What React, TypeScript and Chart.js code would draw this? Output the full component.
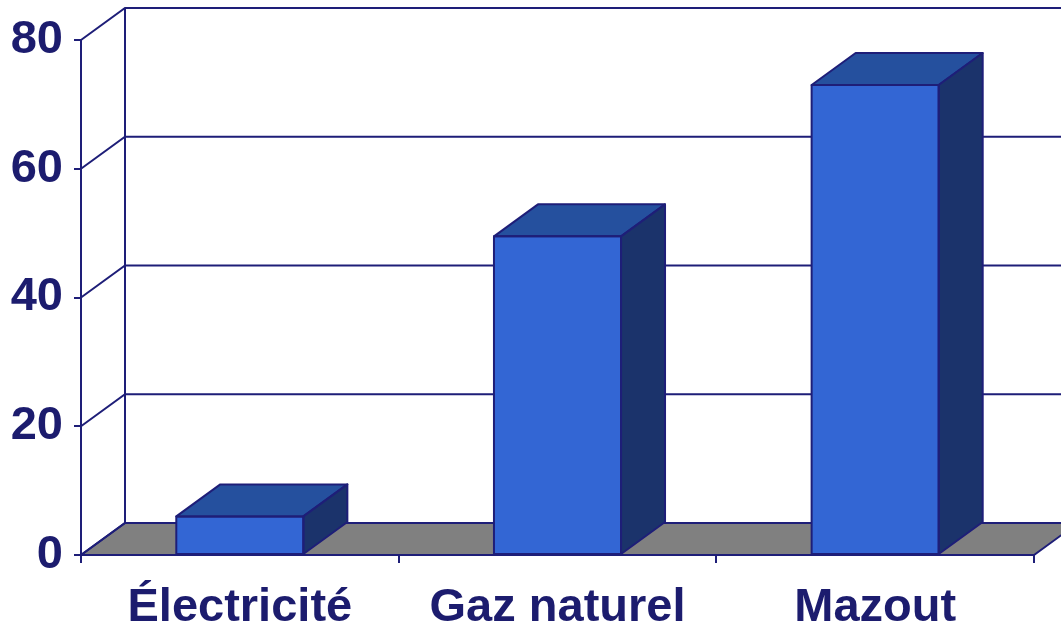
import React, { useEffect, useRef } from "react";
import { Chart, registerables } from "chart.js";

Chart.register(...registerables);

const categories = ["Électricité", "Gaz naturel", "Mazout"];
const values = [6, 49.5, 73];
const yTicks = [0, 20, 40, 60, 80];

const NAVY = "#1e1e78";
const TEXT = "#1c1c6e";
const FRONT = "#3366d4";
const TOP = "#25509e";
const SIDE = "#1b336b";
const FLOOR = "#808080";
const DX = 44;
const DY = -32;

const threeD = {
  id: "threeD",
  beforeDatasetsDraw(chart: any) {
    const { ctx, chartArea, scales } = chart;
    const { left, right, top, bottom } = chartArea;
    const y = scales.y;
    ctx.save();
    ctx.strokeStyle = NAVY;
    ctx.lineWidth = 2;
    // floor
    ctx.beginPath();
    ctx.moveTo(left, bottom);
    ctx.lineTo(right, bottom);
    ctx.lineTo(right + DX, bottom + DY);
    ctx.lineTo(left + DX, bottom + DY);
    ctx.closePath();
    ctx.fillStyle = FLOOR;
    ctx.fill();
    ctx.stroke();
    // back wall left edge
    ctx.beginPath();
    ctx.moveTo(left + DX, top + DY);
    ctx.lineTo(left + DX, bottom + DY);
    ctx.stroke();
    // grid lines on back wall and side wall
    yTicks.forEach((v) => {
      const py = y.getPixelForValue(v);
      ctx.beginPath();
      ctx.moveTo(left, py);
      ctx.lineTo(left + DX, py + DY);
      ctx.lineTo(right + DX, py + DY);
      ctx.stroke();
    });
    ctx.restore();
  },
  afterDatasetsDraw(chart: any) {
    const { ctx } = chart;
    const meta = chart.getDatasetMeta(0);
    ctx.save();
    ctx.strokeStyle = NAVY;
    ctx.lineWidth = 2;
    ctx.lineJoin = "round";
    meta.data.forEach((bar: any) => {
      const { x, y, base, width } = bar.getProps(["x", "y", "base", "width"], true);
      const l = x - width / 2;
      const r = x + width / 2;
      // top
      ctx.beginPath();
      ctx.moveTo(l, y);
      ctx.lineTo(r, y);
      ctx.lineTo(r + DX, y + DY);
      ctx.lineTo(l + DX, y + DY);
      ctx.closePath();
      ctx.fillStyle = TOP;
      ctx.fill();
      ctx.stroke();
      // side
      ctx.beginPath();
      ctx.moveTo(r, y);
      ctx.lineTo(r + DX, y + DY);
      ctx.lineTo(r + DX, base + DY);
      ctx.lineTo(r, base);
      ctx.closePath();
      ctx.fillStyle = SIDE;
      ctx.fill();
      ctx.stroke();
      // front outline
      ctx.strokeRect(l, y, width, base - y);
    });
    ctx.restore();
  },
};

export default function App() {
  const ref = useRef<HTMLCanvasElement>(null);
  useEffect(() => {
    const font = { family: "'Liberation Sans', Arial, sans-serif", size: 47, weight: "bold" as const };
    const chart = new Chart(ref.current!, {
      type: "bar",
      data: {
        labels: categories,
        datasets: [
          {
            data: values,
            backgroundColor: FRONT,
            borderColor: NAVY,
            borderWidth: 0,
            barPercentage: 0.4,
            categoryPercentage: 1,
          },
        ],
      },
      options: {
        animation: false,
        responsive: true,
        maintainAspectRatio: false,
        layout: { padding: { top: 40, right: 27, left: 0, bottom: 0 } },
        plugins: { legend: { display: false }, tooltip: { enabled: false } },
        scales: {
          x: {
            afterFit: (s: any) => {
              s.height = 72;
            },
            grid: { drawOnChartArea: false, drawTicks: true, tickLength: 8, color: NAVY, lineWidth: 2 },
            border: { display: true, color: NAVY, width: 2 },
            ticks: { color: TEXT, font, padding: 17, maxRotation: 0 },
          },
          y: {
            min: 0,
            max: 80,
            afterFit: (s: any) => {
              s.width = 81;
            },
            afterBuildTicks: (s: any) => {
              s.ticks = yTicks.map((v) => ({ value: v }));
            },
            grid: { drawOnChartArea: false, drawTicks: true, tickLength: 7, color: NAVY, lineWidth: 2 },
            border: { display: true, color: NAVY, width: 2 },
            ticks: { color: TEXT, font, padding: 11 },
          },
        },
      },
      plugins: [threeD],
    });
    return () => chart.destroy();
  }, []);
  return (
    <div style={{ position: "fixed", left: 0, top: 0, width: 1061, height: 627, background: "#fff" }}>
      <canvas ref={ref} />
    </div>
  );
}
